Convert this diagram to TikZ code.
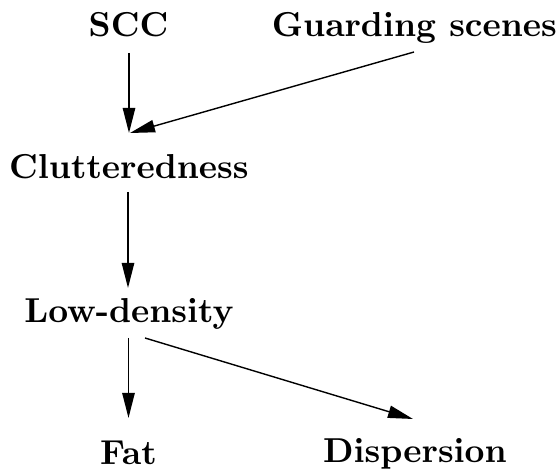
\documentclass[tikz,border=0pt]{standalone}
\usetikzlibrary{calc,arrows.meta}
\font\mybf=cmbx10 at 17.3pt
\begin{document}
\begin{tikzpicture}[x=0.5pt,y=-0.5pt,
  lbl/.style={anchor=base,inner sep=0pt,font=\mybf},
  arr/.style={line width=0.7pt,-{Triangle[length=12.5pt,width=6.2pt]}}]
\useasboundingbox (0,0) rectangle (559,469);
\node[lbl] (scc) at (128.5,37) {SCC};
\node[lbl] (guard) at (414.5,37) {Guarding scenes};
\node[lbl] (clut) at (129,179) {Clutteredness};
\node[lbl] (low) at (129,323) {Low-density};
\node[lbl] (fat) at (128.5,465) {Fat};
\node[lbl] (disp) at (415,463) {Dispersion};
\draw[arr] ($(scc.base)+(0.5,16)$) -- ($(clut.base)+(0,-46)$);
\draw[arr] ($(guard.base)+(-0.5,15)$) -- ($(clut.base)+(1,-46)$);
\draw[arr] ($(clut.base)+(-1,13)$) -- ($(low.base)+(-1,-35)$);
\draw[arr] ($(low.base)+(-0.5,15)$) -- ($(fat.base)+(0,-47)$);
\draw[arr] ($(low.base)+(16,15)$) -- ($(disp.base)+(-2,-44)$);
\end{tikzpicture}
\end{document}
